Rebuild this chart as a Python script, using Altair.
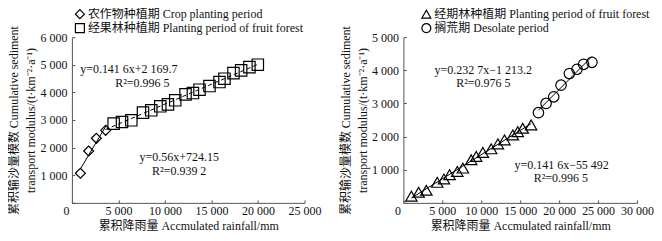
import altair as alt
import pandas as pd

FONT = "'Liberation Serif', 'Noto Sans CJK SC', serif"

# ---------------- data ----------------
left_series = ["农作物种植期 Crop planting period", "经果林种植期 Planting period of fruit forest"]
crop_x = [912, 1803, 2629, 3627]
crop_y = [1073, 1879, 2338, 2627]
fruit_x = [4485, 5386, 6384, 7639, 8530, 9496, 10322, 11105, 12210, 13004,
           13712, 14785, 15858, 16395, 17361, 18187, 19077, 19979]
fruit_y = [2870, 2927, 2989, 3267, 3350, 3495, 3567, 3712, 3928, 3975,
           4098, 4228, 4373, 4496, 4698, 4796, 4915, 5002]
crop_fit_extent = [900, 3700]
fruit_fit_extent = [3600, 20000]

right_series = ["经期林种植期 Planting period of fruit forest", "搁荒期 Desolate period"]
plant_x = [1025, 1960, 2950, 4350, 5210, 5930, 6920, 7640, 8710, 9350,
           10200, 11270, 12130, 12980, 14050, 14690, 15330, 16400]
plant_y = [200, 320, 380, 620, 720, 850, 950, 1050, 1300, 1400,
           1520, 1630, 1780, 1900, 2050, 2150, 2250, 2350]
deso_x = [17340, 18320, 19300, 20240, 21310, 22290, 23140, 24210]
deso_y = [2720, 3000, 3200, 3550, 3900, 4030, 4180, 4240]

left_ann_text = ["y=0.141 6x+2 169.7", "R²=0.996 5", "y=0.56x+724.15", "R²=0.939 2"]
left_ann_x = [6116, 7564, 11534, 11534]
left_ann_y = [4858, 4337, 1663, 1157]

right_ann_text = ["y=0.232 7x−1 213.2", "R²=0.976 5", "y=0.141 6x−55 492", "R²=0.996 5"]
right_ann_x = [10256, 10256, 20321, 20218]
right_ann_y = [4018, 3627, 1157, 765]

left_x_ticks = [0, 5000, 10000, 15000, 20000, 25000]
left_y_ticks = [0, 1000, 2000, 3000, 4000, 5000, 6000]
right_x_ticks = [0, 5000, 10000, 15000, 20000, 25000, 30000]
right_y_ticks = [0, 1000, 2000, 3000, 4000, 5000]

X_TITLE = "累积降雨量 Accmulated rainfall/mm"
Y_TITLE = ["累积输沙量模数 Cumulative sediment", "transport modulus/(t·km⁻²·a⁻¹)"]

LABEL_EXPR = "datum.value == 0 ? '' : replace(format(datum.value, ','), ',', ' ')"
XLABEL_EXPR = "replace(format(datum.value, ','), ',', ' ')"


def panel(s1, x1, y1, s2, x2, y2, series, shapes, sizes, fit1_ext, fit2_ext,
          dash2, ann_t, ann_x, ann_y, xmax, xticks, ymax, yticks, width, legend_x):
    d1 = pd.DataFrame({"x": x1, "y": y1, "series": [s1] * len(x1)})
    d2 = pd.DataFrame({"x": x2, "y": y2, "series": [s2] * len(x2)})
    ann = pd.DataFrame({"t": ann_t, "x": ann_x, "y": ann_y})

    xs = alt.Scale(domain=[0, xmax], nice=False, zero=False)
    ys = alt.Scale(domain=[0, ymax], nice=False, zero=False)
    xaxis = alt.Axis(values=xticks, title=X_TITLE, labelExpr=XLABEL_EXPR,
                     tickSize={"expr": "-3"}, labelPadding=6, titlePadding=4,
                     labelFlush=False, labelOverlap=False,
                     labelOffset={"condition": {"test": "datum.value === 0", "value": -6}, "value": 0})
    yaxis = alt.Axis(values=yticks, title=Y_TITLE, labelExpr=LABEL_EXPR,
                     tickSize={"expr": "-3"}, labelPadding=8, titlePadding=2,
                     titleLineHeight=17, labelFlush=False, labelOverlap=False)
    X = alt.X("x:Q", scale=xs, axis=xaxis)
    Y = alt.Y("y:Q", scale=ys, axis=yaxis)

    leg = alt.Legend(title=None, orient="none", legendX=legend_x, legendY=-29,
                     labelFont=FONT, labelFontSize=12, labelColor="#111", labelLimit=400,
                     labelOffset=2, rowPadding=0, padding=0, symbolSize=80,
                     symbolStrokeColor="black", symbolStrokeWidth=1.2,
                     symbolFillColor="transparent")
    SH = alt.Shape("series:N", scale=alt.Scale(domain=series, range=shapes), legend=leg)
    p1 = alt.Chart(d1).mark_point(filled=False, color="black", strokeWidth=1.2, opacity=1,
                                  size=sizes[0]).encode(x=X, y=Y, shape=SH)
    p2 = alt.Chart(d2).mark_point(filled=False, color="black", strokeWidth=1.2, opacity=1,
                                  size=sizes[1]).encode(x=X, y=Y, shape=SH)
    f1 = alt.Chart(d1).transform_regression("x", "y", extent=fit1_ext).mark_line(
        color="black", strokeWidth=1).encode(x=X, y=Y)
    line2 = alt.Chart(d2).transform_regression("x", "y", extent=fit2_ext)
    if dash2:
        f2 = line2.mark_line(color="black", strokeWidth=1, strokeDash=[4, 3]).encode(x=X, y=Y)
    else:
        f2 = line2.mark_line(color="black", strokeWidth=1).encode(x=X, y=Y)
    txt = alt.Chart(ann).mark_text(font=FONT, fontSize=12, color="#111").encode(
        x=X, y=Y, text="t:N")
    return alt.layer(f1, f2, p1, p2, txt).properties(width=width, height=166)


left = panel(left_series[0], crop_x, crop_y, left_series[1], fruit_x, fruit_y,
             left_series, ["diamond", "square"], [100, 130], crop_fit_extent, fruit_fit_extent,
             True, left_ann_text, left_ann_x, left_ann_y, 25000, left_x_ticks, 6000,
             left_y_ticks, 233, 2)
right = panel(right_series[0], plant_x, plant_y, right_series[1], deso_x, deso_y,
              right_series, ["triangle-up", "circle"], [130, 110],
              [min(plant_x), max(plant_x)], [min(deso_x), max(deso_x)],
              False, right_ann_text, right_ann_x, right_ann_y, 30000, right_x_ticks, 5000,
              right_y_ticks, 234, 17)

chart = alt.hconcat(left, right, spacing=99, bounds="flush").resolve_scale(
    x="independent", y="independent", shape="independent"
).resolve_legend(shape="independent").properties(padding=0).configure_view(
    stroke=None
).configure_axis(
    grid=False, domainColor="#555", tickColor="#555", domainWidth=1, tickWidth=1,
    labelFont=FONT, titleFont=FONT, labelFontSize=12, titleFontSize=12,
    titleFontWeight="normal", labelColor="#111", titleColor="#111"
)

chart.save("out.html", embed_options={"renderer": "svg", "actions": False})
